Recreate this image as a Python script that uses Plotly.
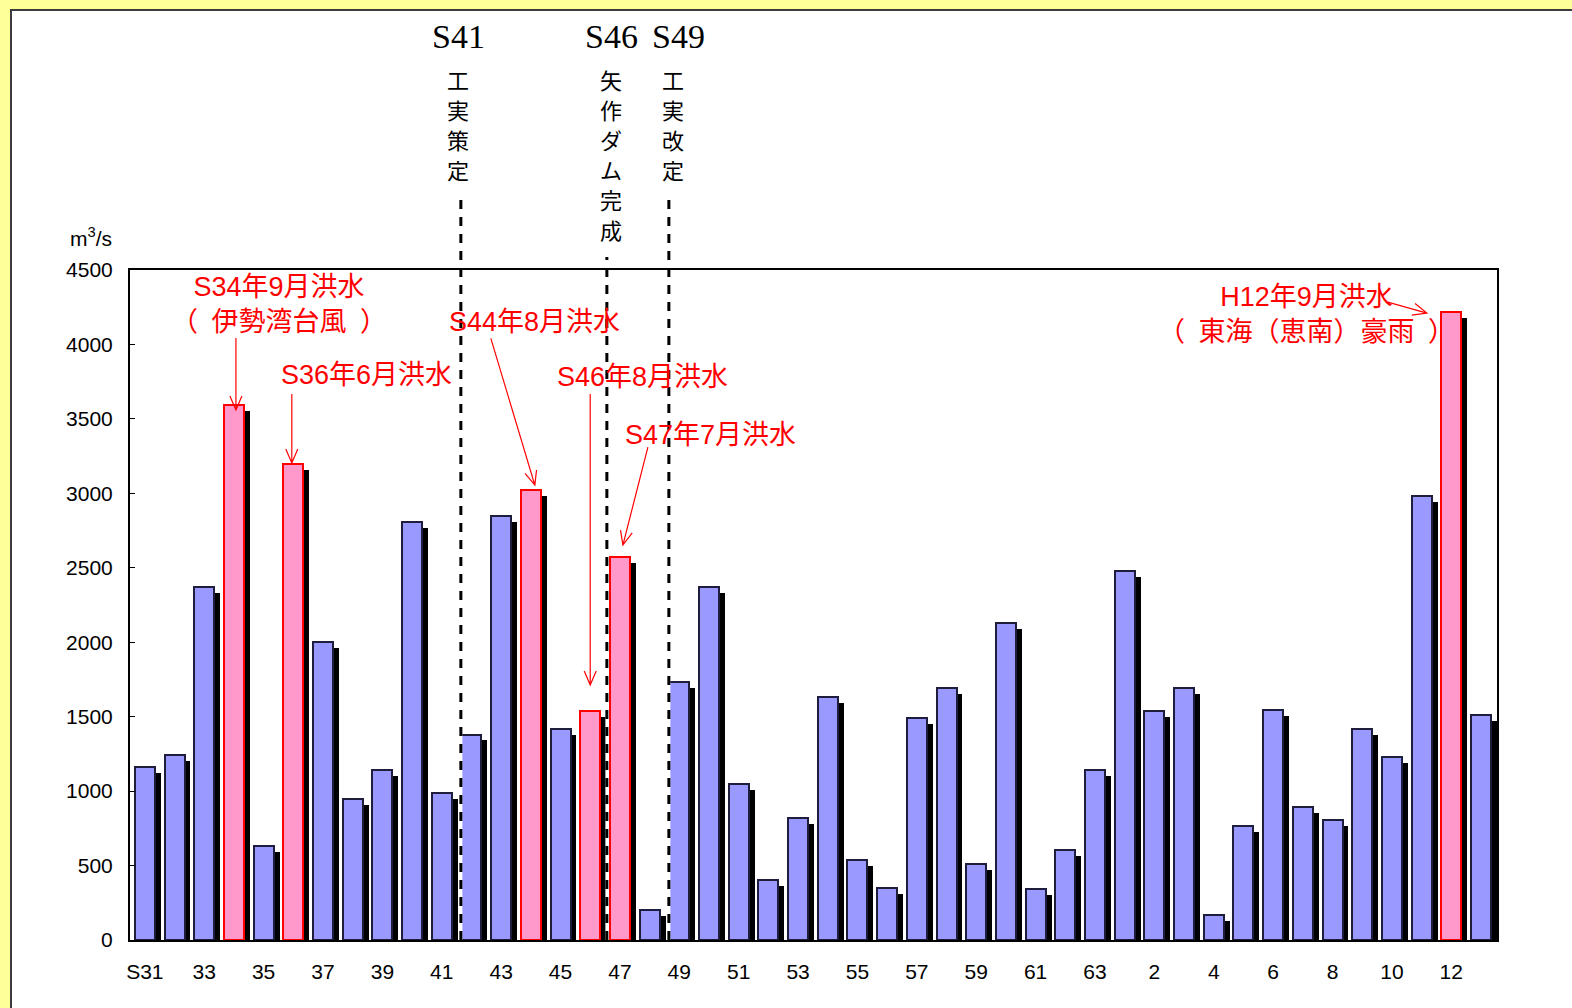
import numpy as np
import plotly.graph_objects as go

# ---------------- data ----------------
years = ["S31", "S32", "S33", "S34", "S35", "S36", "S37", "S38", "S39", "S40",
         "S41", "S42", "S43", "S44", "S45", "S46", "S47", "S48", "S49", "S50",
         "S51", "S52", "S53", "S54", "S55", "S56", "S57", "S58", "S59", "S60",
         "S61", "S62", "S63", "H1", "H2", "H3", "H4", "H5", "H6", "H7",
         "H8", "H9", "H10", "H11", "H12", "H13"]
peak_flow = [1160, 1240, 2370, 3590, 630, 3200, 2000, 950, 1140, 2810,
             990, 1380, 2850, 3020, 1420, 1540, 2570, 200, 1730, 2370,
             1050, 400, 820, 1630, 540, 350, 1490, 1690, 510, 2130,
             340, 605, 1140, 2480, 1540, 1690, 165, 765, 1545, 890,
             805, 1420, 1230, 2980, 4220, 1510]
highlight_years = ["S34", "S36", "S44", "S46", "S47", "H12"]
tick_years = ["S31", "S33", "S35", "S37", "S39", "S41", "S43", "S45", "S47", "S49",
              "S51", "S53", "S55", "S57", "S59", "S61", "S63", "H2", "H4", "H6",
              "H8", "H10", "H12"]
tick_text = ["S31", "33", "35", "37", "39", "41", "43", "45", "47", "49",
             "51", "53", "55", "57", "59", "61", "63", "2", "4", "6",
             "8", "10", "12"]
y_ticks = [0, 500, 1000, 1500, 2000, 2500, 3000, 3500, 4000, 4500]
EN = "\u2002"
flood_labels = {
    "S34": "S34年9月洪水<br>（" + EN + "伊勢湾台風" + EN + "）",
    "S36": "S36年6月洪水",
    "S44": "S44年8月洪水",
    "S46": "S46年8月洪水",
    "S47": "S47年7月洪水",
    "H12": "H12年9月洪水<br>（" + EN + "東海（恵南）豪雨" + EN + "）",
}
event_years = ["S41", "S46", "S49"]
event_texts = ["工実策定", "矢作ダム完成", "工実改定"]

# ---------------- layout helpers ----------------
FIG_W, FIG_H = 1572, 1008
L, R, T, B = 130, 1497, 270, 940
PW, PH = R - L, B - T


def px_x(px):
    return (px - L) / PW


def px_y(py):
    return (B - py) / PH


idx = np.arange(len(years))
BAR_W = 0.674
SHADOW_DX = 0.2
SHADOW_DY = 40  # units (~6 px)

is_hl = [y in highlight_years for y in years]
fill = ["#FF99CC" if h else "#9999FF" for h in is_hl]
edge = ["#FF0000" if h else "#1E1E3C" for h in is_hl]

fig = go.Figure()
# shadow bars
fig.add_trace(go.Bar(
    x=idx, y=[max(v - SHADOW_DY, 0) for v in peak_flow],
    width=BAR_W, offset=-BAR_W / 2 + SHADOW_DX,
    marker=dict(color="black", line=dict(width=0)),
    hoverinfo="skip", showlegend=False))
# main bars
fig.add_trace(go.Bar(
    x=idx, y=peak_flow, width=BAR_W, offset=-BAR_W / 2,
    marker=dict(color=fill, line=dict(color=edge, width=2)),
    showlegend=False))

shapes = []
# white panel on yellow page
shapes.append(dict(type="rect", xref="paper", yref="paper",
                   x0=px_x(11), x1=px_x(1590), y0=px_y(1020), y1=px_y(10),
                   fillcolor="white", line=dict(color="#3C3C3C", width=2),
                   layer="below"))

# event dashed lines
event_line_px = {"S41": (461, 199), "S46": (607, 257), "S49": (669, 193)}
cat_px0, cat_step = 145.0, 29.69
for ey in event_years:
    lx, top = event_line_px[ey]
    xd = (lx - cat_px0) / cat_step
    shapes.append(dict(type="line", xref="x", yref="paper", x0=xd, x1=xd,
                       y0=0, y1=1, line=dict(color="white", width=3), layer="above"))
    shapes.append(dict(type="line", xref="x", yref="paper", x0=xd, x1=xd,
                       y0=0, y1=px_y(top), line=dict(color="black", width=3, dash="9px,8px"),
                       layer="above"))

# arrows: (tip dx, tip dy, tail dx, tail dy) in px relative to bar top centre (dy up)
arrow_geom = {
    "S34": (2, -4.6, 2, 67.4),
    "S36": (-1.5, 0.5, -1.5, 69.5),
    "S44": (4, 5.3, -40, 152),
    "S46": (0, 25.7, 0, 316.7),
    "S47": (3, 12.3, 28, 110.3),
    "H12": (-24.4, -1.4, -63.4, 9.6),
}
HEAD_L, HEAD_W = 14, 6
for yr, (tx, ty, sx, sy) in arrow_geom.items():
    i = years.index(yr)
    tip = np.array([tx, ty], float)
    tail = np.array([sx, sy], float)
    u = (tip - tail) / np.linalg.norm(tip - tail)
    n = np.array([-u[1], u[0]])
    p1 = tip - HEAD_L * u + HEAD_W * n
    p2 = tip - HEAD_L * u - HEAD_W * n
    path = (f"M{tail[0]:.1f},{tail[1]:.1f} L{tip[0]:.1f},{tip[1]:.1f} "
            f"M{p1[0]:.1f},{p1[1]:.1f} L{tip[0]:.1f},{tip[1]:.1f} L{p2[0]:.1f},{p2[1]:.1f}")
    shapes.append(dict(type="path", xref="x", yref="y",
                       xsizemode="pixel", ysizemode="pixel",
                       xanchor=i, yanchor=peak_flow[i], path=path,
                       line=dict(color="#FF0000", width=1.2), layer="above"))

annotations = []
RED_FONT = dict(family="Liberation Sans, Noto Sans CJK JP", size=27, color="#FF0000")
label_pos = {"S34": (279, 304.5), "S36": (366, 375), "S44": (534, 322),
             "S46": (642, 377), "S47": (710, 435), "H12": (1306, 314.5)}
for yr, txt in flood_labels.items():
    cx, cy = label_pos[yr]
    annotations.append(dict(text=txt, x=px_x(cx), y=px_y(cy), xref="paper", yref="paper",
                            xanchor="center", yanchor="middle", showarrow=False,
                            font=RED_FONT, align="center"))

head_pos = {"S41": 458, "S46": 611, "S49": 678}
vert_pos = {"S41": 458, "S46": 611, "S49": 673}
for ey, et in zip(event_years, event_texts):
    annotations.append(dict(text=ey, x=px_x(head_pos[ey]), y=px_y(37), xref="paper", yref="paper",
                            xanchor="center", yanchor="middle", showarrow=False,
                            font=dict(family="Liberation Serif", size=34, color="black")))
    for k, ch in enumerate(et):
        annotations.append(dict(text=ch, x=px_x(vert_pos[ey]), y=px_y(79 + 30 * k),
                                xref="paper", yref="paper", xanchor="center", yanchor="middle",
                                showarrow=False, borderpad=0,
                                font=dict(family="Noto Sans CJK JP", size=22, color="black")))

annotations.append(dict(text="m<sup>3</sup>/s", x=px_x(114), y=px_y(237), xref="paper", yref="paper",
                        xanchor="right", yanchor="middle", showarrow=False,
                        font=dict(family="Liberation Sans", size=21, color="black")))

fig.update_layout(
    width=FIG_W, height=FIG_H,
    margin=dict(l=L, r=FIG_W - R, t=T, b=FIG_H - B, pad=0),
    paper_bgcolor="#FFFF99", plot_bgcolor="white",
    barmode="overlay", bargap=0,
    shapes=shapes, annotations=annotations,
    font=dict(family="Liberation Sans", color="black"),
    xaxis=dict(range=[-0.5, 45.54], tickmode="array",
               tickvals=[years.index(t) for t in tick_years], ticktext=tick_text,
               ticks="", showgrid=False, zeroline=False,
               showline=True, linecolor="black", linewidth=2, mirror=True,
               tickfont=dict(size=21, color="black"), ticklabelstandoff=12),
    yaxis=dict(range=[0, 4500], tickmode="array", tickvals=y_ticks,
               ticks="inside", ticklen=5, tickwidth=1, tickcolor="black",
               showgrid=False, zeroline=False,
               showline=True, linecolor="black", linewidth=2, mirror=True,
               tickfont=dict(size=21, color="black"), ticklabelstandoff=11),
)

fig.write_html("out.html", config={"displayModeBar": False},
               post_script="document.body.style.margin='0';document.body.style.overflow='hidden';")
